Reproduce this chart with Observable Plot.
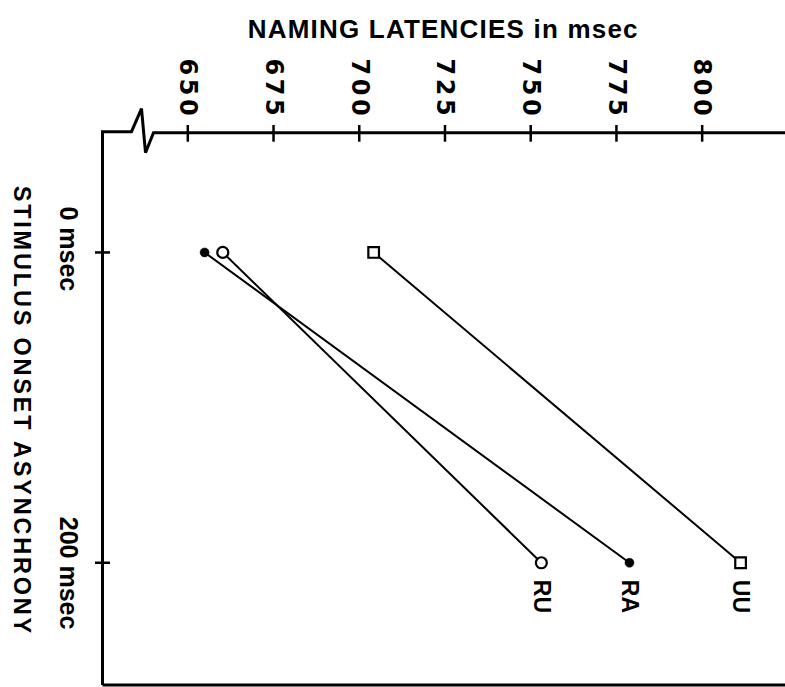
<!DOCTYPE html>
<html><head><meta charset="utf-8">
<script src="https://cdn.jsdelivr.net/npm/d3@7"></script>
<script src="https://cdn.jsdelivr.net/npm/@observablehq/plot@0.6"></script>
<style>html,body{margin:0;padding:0;background:#fff}svg{display:block}</style>
</head><body><div id="chart"></div>
<script>
const conditions = ["RU", "RA", "UU"];
const soa = [0, 200];
const ruLatency = [660.2, 753.1];
const raLatency = [654.9, 778.8];
const uuLatency = [704.2, 811.2];
const latencyTicks = [650, 675, 700, 725, 750, 775, 800];
const soaTicks = [0, 200];
const soaTickLabels = ["0 msec", "200 msec"];
const title = "NAMING LATENCIES in msec";
const yTitle = "STIMULUS ONSET ASYNCHRONY";

const series = {RU: ruLatency, RA: raLatency, UU: uuLatency};
const rows = conditions.flatMap(c => soa.map((s, i) => ({condition: c, soa: s, latency: series[c][i]})));
const ends = rows.filter(d => d.soa === soa[1]);

const FONT = "'Liberation Sans', Arial, sans-serif";
const DIGITS = "'DejaVu Sans', 'Liberation Sans', sans-serif";

function frameMark(index, scales, values, dim) {
  const g = d3.create("svg:g").attr("fill", "none").attr("stroke", "black").attr("stroke-width", 3);
  const l = dim.marginLeft, t = dim.marginTop, r = dim.width, b = dim.height - dim.marginBottom;
  g.append("path").attr("stroke-linejoin", "miter")
    .attr("d", `M${l},${b}V${t}H${l + 29}L${l + 39},${t - 23}L${l + 43},${t + 21}L${l + 51},${t + 1}H${r}`);
  g.append("path").attr("d", `M${l},${b}H${r}`);
  return g.node();
}

const chart = Plot.plot({
  width: 785,
  height: 687,
  marginLeft: 102.5,
  marginRight: 0,
  marginTop: 131.7,
  marginBottom: 2,
  x: {domain: [625.27, 824.3], axis: null},
  y: {domain: [-77.5, 279.1], reverse: true, axis: null},
  style: {fontFamily: FONT, background: "white", color: "black"},
  marks: [
    frameMark,
    Plot.axisX(latencyTicks, {anchor: "top", tickSize: 16.7, dy: 9, tickFormat: () => "", label: null, strokeWidth: 2.5}),
    Plot.axisY(soaTicks, {anchor: "left", tickSize: 15, dx: 7.5, tickFormat: () => "", label: null, strokeWidth: 2.5}),
    Plot.text(latencyTicks, {x: d => d, frameAnchor: "top", lineAnchor: "middle", rotate: 90, textAnchor: "end", dy: -13, fontSize: 24, fontFamily: DIGITS, fontWeight: "bold"}),
    Plot.text(soaTicks, {y: d => d, text: (d, i) => soaTickLabels[i], frameAnchor: "left", lineAnchor: "middle", rotate: 90, textAnchor: "start", dx: -35, dy: -46, fontSize: 25, fontWeight: "bold"}),
    Plot.text([yTitle], {frameAnchor: "left", lineAnchor: "middle", rotate: 90, textAnchor: "middle", dx: -81, dy: 2, fontSize: 23.5, fontWeight: "bold"}),
    Plot.text([title], {frameAnchor: "top", lineAnchor: "middle", textAnchor: "middle", dx: -1, dy: -102.5, fontSize: 26, fontWeight: "bold"}),
    Plot.line(rows, {x: "latency", y: "soa", z: "condition", stroke: "black", strokeWidth: 2}),
    Plot.dot(rows.filter(d => d.condition === "RU"), {x: "latency", y: "soa", r: 5.5, fill: "white", stroke: "black", strokeWidth: 2.2}),
    Plot.dot(rows.filter(d => d.condition === "RA"), {x: "latency", y: "soa", r: 4.5, fill: "black", stroke: "black", strokeWidth: 0.5}),
    Plot.dot(rows.filter(d => d.condition === "UU"), {x: "latency", y: "soa", r: 6, symbol: "square", fill: "white", stroke: "black", strokeWidth: 2.2}),
    Plot.text(ends, {x: "latency", y: "soa", text: "condition", lineAnchor: "middle", rotate: 90, textAnchor: "start", dy: 17, fontSize: 23, fontWeight: "bold"})
  ]
});

// letter spacing for the hand-lettered look of the original
const spacing = new Map([[title, 1.2], [yTitle, 2.8], ...latencyTicks.map(t => [String(t), 3.5])]);
d3.select(chart).selectAll("text").each(function () {
  const s = spacing.get(this.textContent);
  if (s != null) this.setAttribute("letter-spacing", s);
});
document.getElementById("chart").appendChild(chart);
</script>
</body></html>
